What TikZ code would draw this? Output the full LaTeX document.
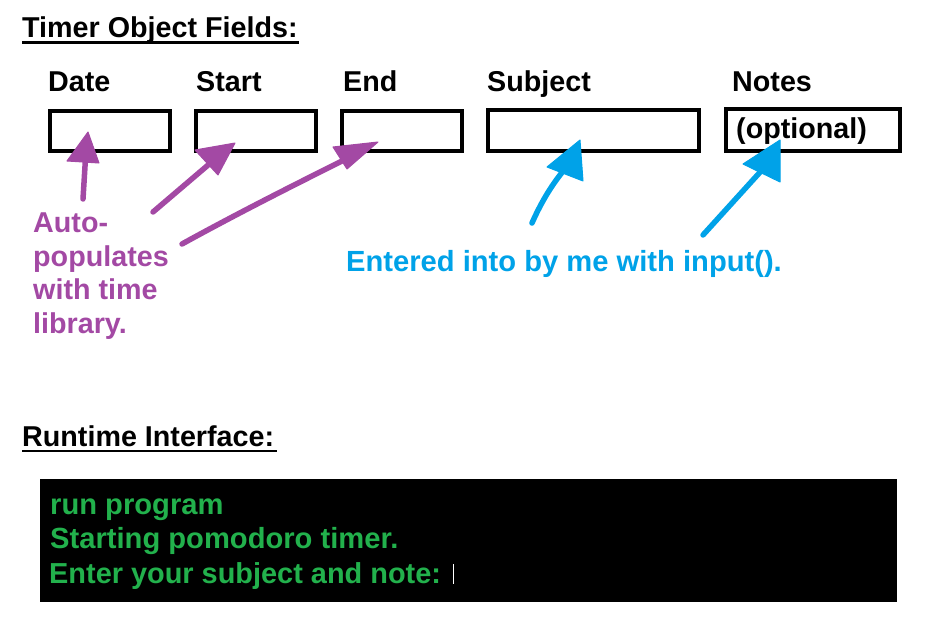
\documentclass[tikz,border=0pt]{standalone}
\usepackage{fontspec}
\setmainfont{Liberation Sans}
\definecolor{ppurple}{HTML}{A349A4}
\definecolor{pblue}{HTML}{00A2E8}
\definecolor{pgreen}{HTML}{22B14C}
\begin{document}
\begin{tikzpicture}[x=1pt,y=-1pt,
  txt/.style={anchor=base west,inner sep=0pt,font=\fontsize{28.7}{33}\selectfont\bfseries},
  bigtxt/.style={txt,font=\fontsize{29.15}{33}\selectfont\bfseries},
  field/.style={draw=black,line width=4pt},
  shaft/.style={line width=5.5pt,line cap=round},
  head/.style={line width=1pt,line join=round}]
\useasboundingbox (0,0) rectangle (942,626);
% title
\node[txt] (title) at (22,38) {Timer Object Fields:};
\draw[line width=2.5pt] (22,42.5) -- (299,42.5);
% labels
\node[txt] (ldate) at (48,92) {Date};
\node[txt] (lstart) at (196,92) {Start};
\node[txt] (lend) at (343,92) {End};
\node[txt] (lsubj) at (487,92) {Subject};
\node[txt] (lnotes) at (732,92) {Notes};
% boxes
\draw[field] (50,111) rectangle (170,151);
\draw[field] (196,111) rectangle (316,151);
\draw[field] (342,111) rectangle (462,151);
\draw[field] (488,110) rectangle (699,151);
\draw[field] (726,109) rectangle (900,151);
\node[txt] (opt) at (736,138) {(optional)};
% purple texts
\node[txt,text=ppurple] (auto1) at (33,232.5) {Auto-};
\node[txt,text=ppurple] (auto2) at (33,266) {populates};
\node[txt,text=ppurple] (auto3) at (33,299.5) {with time};
\node[txt,text=ppurple] (auto4) at (33,333) {library.};
% purple arrows
\draw[ppurple,shaft] (83,199) -- (86,150);
\filldraw[ppurple,head] (88,132) -- (67,161) -- (99,163) -- cycle;
\draw[ppurple,shaft] (153,212) -- (214,160);
\filldraw[ppurple,head] (235,143) -- (195,150) -- (218,175) -- cycle;
\draw[ppurple,shaft] (182,244) .. controls (240,212) and (300,182) .. (344,160);
\filldraw[ppurple,head] (378,142) -- (333,147) -- (347,169) -- cycle;
% blue text
\node[bigtxt,text=pblue] (entered) at (346,271) {Entered into by me with input().};
% blue arrows
\draw[pblue,shaft] (532,223) .. controls (540,205) and (550,187) .. (564,170);
\filldraw[pblue,head] (580,140) -- (547,167) -- (583,181) -- cycle;
\draw[pblue,shaft] (703,235) -- (762,170);
\filldraw[pblue,head] (780,140) -- (743,164) -- (780,182) -- cycle;
% runtime
\node[txt] (rt) at (22,446) {Runtime Interface:};
\draw[line width=2.5pt] (22,451) -- (277,451);
\fill[black] (40,479) rectangle (897,602);
\node[bigtxt,text=pgreen] (l1) at (50,514) {run program};
\node[bigtxt,text=pgreen] (l2) at (50,548) {Starting pomodoro timer.};
\node[txt,text=pgreen,font=\fontsize{28.9}{33}\selectfont\bfseries] (l3) at (49,583) {Enter your subject and note:};
\draw[white,line width=1.3pt] (453.5,564) -- (453.5,584);
\end{tikzpicture}
\end{document}
